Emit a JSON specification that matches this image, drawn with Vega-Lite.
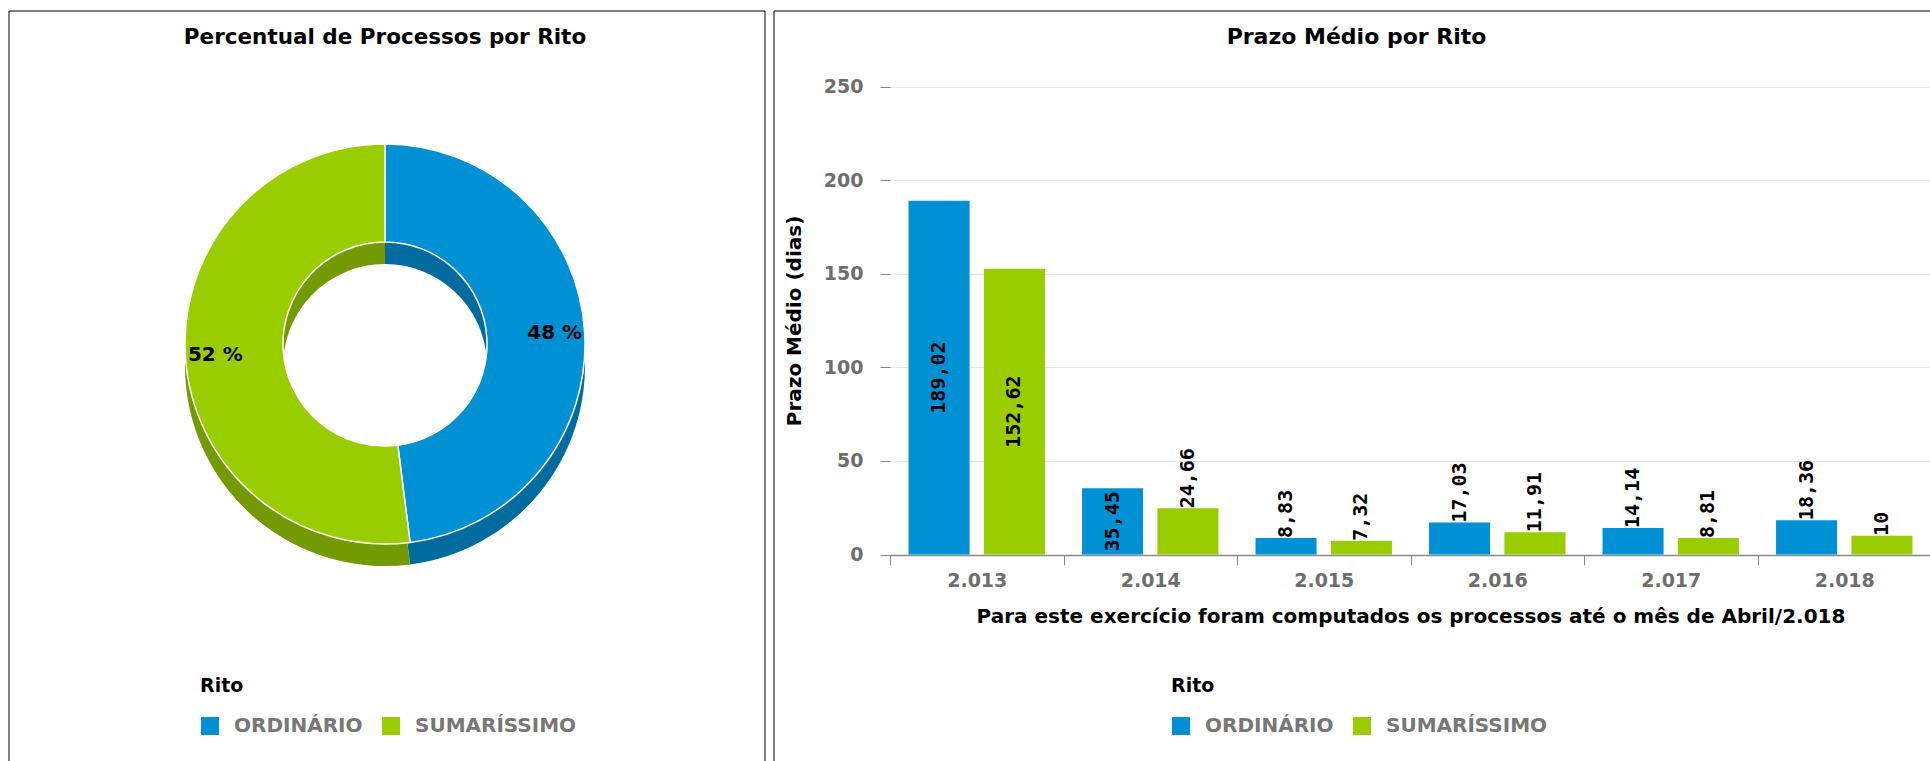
{
  "$schema": "https://vega.github.io/schema/vega-lite/v6.json",
  "padding": {"left": 8, "top": 10, "right": 0, "bottom": 0},
  "spacing": 7,
  "background": "#ffffff",
  "config": {
    "view": {"stroke": null},
    "font": "DejaVu Sans",
    "locale": {"number": {"decimal": ",", "thousands": ".", "grouping": [3], "currency": ["R$", ""]}}
  },
  "resolve": {"scale": {"color": "independent"}},
  "hconcat": [
    {
      "width": 756,
      "height": 750,
      "title": {"text": "Percentual de Processos por Rito", "frame": "group", "anchor": "middle", "offset": -55, "baseline": "alphabetic", "dx": -2, "font": "DejaVu Sans", "fontSize": 21.5, "fontWeight": "bold", "color": "#000000"},
      "data": {"values": [
        {"Rito": "ORDINÁRIO", "Percentual": 48, "Rotulo": "48 %"},
        {"Rito": "SUMARÍSSIMO", "Percentual": 52, "Rotulo": "52 %"}
      ]},
      "layer": [
        {"data": {"values": [{}]}, "mark": {"type": "rule", "color": "#000000", "strokeWidth": 1}, "encoding": {"x": {"datum": 0, "type": "quantitative", "scale": {"domain": [0, 1]}, "axis": null}}},
        {"data": {"values": [{}]}, "mark": {"type": "rule", "color": "#000000", "strokeWidth": 1}, "encoding": {"x": {"datum": 1, "type": "quantitative", "scale": {"domain": [0, 1]}, "axis": null}}},
        {"data": {"values": [{}]}, "mark": {"type": "rule", "color": "#000000", "strokeWidth": 1}, "encoding": {"y": {"datum": 1, "type": "quantitative", "scale": {"domain": [0, 1]}, "axis": null}}},
        {
          "mark": {"type": "arc", "outerRadius": 200, "innerRadius": 102, "xOffset": -2, "yOffset": -20},
          "encoding": {
            "theta": {"field": "Percentual", "type": "quantitative", "stack": true},
            "order": {"field": "Rito", "type": "ordinal"},
            "color": {"condition": {"test": "datum.Rito === 'ORDINÁRIO'", "value": "#006b9e"}, "value": "#739a00"}
          }
        },
        {
          "mark": {"type": "arc", "outerRadius": 200, "innerRadius": 102, "xOffset": -2, "yOffset": -42, "stroke": "#ffffff", "strokeWidth": 1.5},
          "encoding": {
            "theta": {"field": "Percentual", "type": "quantitative", "stack": true},
            "order": {"field": "Rito", "type": "ordinal"},
            "color": {
              "field": "Rito", "type": "nominal",
              "scale": {"domain": ["ORDINÁRIO", "SUMARÍSSIMO"], "range": ["#0090d4", "#9acd00"]},
              "legend": {"orient": "none", "legendX": 191, "legendY": 666, "direction": "horizontal", "title": "Rito",
                "titleFont": "DejaVu Sans", "titleFontSize": 19, "titleFontWeight": "bold", "titleColor": "#000000", "titlePadding": 20,
                "labelFont": "DejaVu Sans", "labelFontSize": 20, "labelFontWeight": "bold", "labelColor": "#777777", "labelLimit": 400,
                "symbolType": "square", "symbolSize": 324, "symbolStrokeWidth": 0, "symbolOpacity": 1, "labelOffset": 14, "columnPadding": 18}
            }
          }
        },
        {
          "mark": {"type": "text", "radius": 170, "xOffset": -2, "yOffset": -42, "font": "DejaVu Sans", "fontSize": 20, "fontWeight": "bold", "color": "#000000"},
          "encoding": {
            "theta": {"field": "Percentual", "type": "quantitative", "stack": true},
            "order": {"field": "Rito", "type": "ordinal"},
            "text": {"field": "Rotulo", "type": "nominal"}
          }
        }
      ]
    },
    {
      "width": 1157,
      "height": 750,
      "title": {"text": "Prazo Médio por Rito", "frame": "group", "anchor": "middle", "offset": -55, "baseline": "alphabetic", "dx": 4, "font": "DejaVu Sans", "fontSize": 22, "fontWeight": "bold", "color": "#000000"},
      "resolve": {"scale": {"x": "independent", "y": "independent"}},
      "layer": [
        {"data": {"values": [{}]}, "mark": {"type": "rule", "color": "#000000", "strokeWidth": 1}, "encoding": {"x": {"datum": 0, "type": "quantitative", "scale": {"domain": [0, 1]}, "axis": null}}},
        {"data": {"values": [{}]}, "mark": {"type": "rule", "color": "#000000", "strokeWidth": 1}, "encoding": {"y": {"datum": 1, "type": "quantitative", "scale": {"domain": [0, 1]}, "axis": null}}},
        {
          "data": {"values": [
            {"Ano": "2.013", "Rito": "ORDINÁRIO", "Prazo": 189.02},
            {"Ano": "2.013", "Rito": "SUMARÍSSIMO", "Prazo": 152.62},
            {"Ano": "2.014", "Rito": "ORDINÁRIO", "Prazo": 35.45},
            {"Ano": "2.014", "Rito": "SUMARÍSSIMO", "Prazo": 24.66},
            {"Ano": "2.015", "Rito": "ORDINÁRIO", "Prazo": 8.83},
            {"Ano": "2.015", "Rito": "SUMARÍSSIMO", "Prazo": 7.32},
            {"Ano": "2.016", "Rito": "ORDINÁRIO", "Prazo": 17.03},
            {"Ano": "2.016", "Rito": "SUMARÍSSIMO", "Prazo": 11.91},
            {"Ano": "2.017", "Rito": "ORDINÁRIO", "Prazo": 14.14},
            {"Ano": "2.017", "Rito": "SUMARÍSSIMO", "Prazo": 8.81},
            {"Ano": "2.018", "Rito": "ORDINÁRIO", "Prazo": 18.36},
            {"Ano": "2.018", "Rito": "SUMARÍSSIMO", "Prazo": 10}
          ]},
          "encoding": {
            "x": {
              "field": "Ano", "type": "nominal", "sort": null,
              "scale": {"range": [116, 1157], "paddingInner": 0, "paddingOuter": 0},
              "axis": {"orient": "bottom", "offset": -206, "title": "Para este exercício foram computados os processos até o mês de Abril/2.018",
                "labelAngle": 0, "tickBand": "extent", "tickSize": 10, "tickColor": "#888888", "domainColor": "#888888", "domainWidth": 1.5,
                "labelFont": "DejaVu Sans", "labelFontSize": 19, "labelFontWeight": "bold", "labelColor": "#6e6e6e", "labelPadding": 6,
                "titleFont": "DejaVu Sans", "titleFontSize": 20, "titleFontWeight": "bold", "titleColor": "#000000", "titlePadding": 16, "grid": false}
            },
            "xOffset": {"field": "Rito", "type": "nominal", "scale": {"paddingInner": 0.19, "paddingOuter": 0.246}}
          },
          "layer": [
            {
              "mark": {"type": "bar"},
              "encoding": {
                "y": {
                  "field": "Prazo", "type": "quantitative",
                  "scale": {"domain": [0, 250], "range": [543.5, 75.5], "nice": false},
                  "axis": {"orient": "left", "offset": -116, "values": [0, 50, 100, 150, 200, 250], "domain": false,
                    "tickSize": 10, "tickColor": "#888888", "labelFont": "DejaVu Sans", "labelFontSize": 19, "labelFontWeight": "bold",
                    "labelColor": "#6e6e6e", "labelPadding": 17, "grid": true, "gridColor": "#e6e6e6", "gridWidth": 1,
                    "title": "Prazo Médio (dias)", "titleFont": "DejaVu Sans", "titleFontSize": 20, "titleFontWeight": "bold", "titleColor": "#000000", "titlePadding": 19}
                },
                "color": {
                  "field": "Rito", "type": "nominal",
                  "scale": {"domain": ["ORDINÁRIO", "SUMARÍSSIMO"], "range": ["#0090d4", "#9acd00"]},
                  "legend": {"orient": "none", "legendX": 397, "legendY": 666, "direction": "horizontal", "title": "Rito",
                    "titleFont": "DejaVu Sans", "titleFontSize": 19, "titleFontWeight": "bold", "titleColor": "#000000", "titlePadding": 20,
                    "labelFont": "DejaVu Sans", "labelFontSize": 20, "labelFontWeight": "bold", "labelColor": "#777777", "labelLimit": 400,
                    "symbolType": "square", "symbolSize": 324, "symbolStrokeWidth": 0, "symbolOpacity": 1, "labelOffset": 14, "columnPadding": 18}
                }
              }
            },
            {
              "transform": [{"filter": "datum.Prazo >= 30"}, {"calculate": "datum.Prazo / 2", "as": "Meio"}],
              "mark": {"type": "text", "angle": 270, "align": "center", "baseline": "middle", "font": "DejaVu Sans Mono", "fontSize": 20, "fontWeight": "bold", "color": "#000000"},
              "encoding": {
                "y": {"field": "Meio", "type": "quantitative", "title": "Prazo Médio (dias)"},
                "text": {"field": "Prazo", "type": "quantitative", "format": ".2~f"}
              }
            },
            {
              "transform": [{"filter": "datum.Prazo < 30"}],
              "mark": {"type": "text", "angle": 270, "align": "left", "baseline": "middle", "font": "DejaVu Sans Mono", "fontSize": 20, "fontWeight": "bold", "color": "#000000"},
              "encoding": {
                "y": {"field": "Prazo", "type": "quantitative", "title": "Prazo Médio (dias)"},
                "text": {"field": "Prazo", "type": "quantitative", "format": ".2~f"}
              }
            }
          ]
        }
      ]
    }
  ]
}
